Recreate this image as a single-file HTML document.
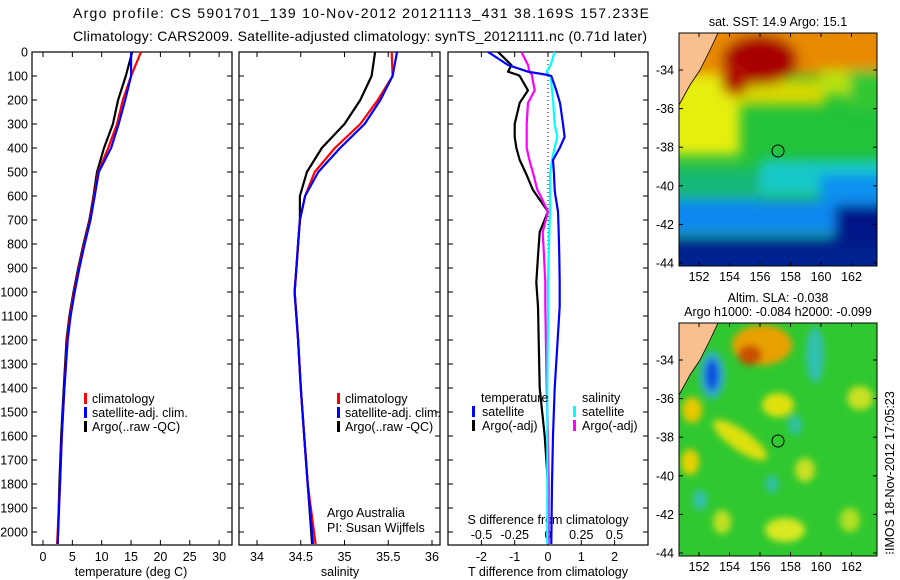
<!DOCTYPE html>
<html><head><meta charset="utf-8"><style>
html,body{margin:0;padding:0;background:#fff;width:900px;height:580px;overflow:hidden}
svg text{font-family:"Liberation Sans",sans-serif;fill:#000}
</style></head><body>
<svg id="chart" width="900" height="580" viewBox="0 0 900 580" xmlns="http://www.w3.org/2000/svg">
<defs>
<filter id="bl" x="-20%" y="-20%" width="140%" height="140%"><feGaussianBlur stdDeviation="6"/></filter>
<filter id="bl2" x="-50%" y="-50%" width="200%" height="200%"><feGaussianBlur stdDeviation="3.5"/></filter>
<clipPath id="c1"><rect x="679" y="33" width="198" height="233"/></clipPath>
<clipPath id="c2"><rect x="679" y="323" width="198" height="233"/></clipPath>
</defs>
<text x="73" y="18" font-size="14" textLength="576">Argo profile: CS 5901701_139 10-Nov-2012 20121113_431 38.169S 157.233E</text>
<text x="73" y="41" font-size="14" textLength="574">Climatology: CARS2009. Satellite-adjusted climatology: synTS_20121111.nc (0.71d later)</text>

<g>
<text x="778" y="26" font-size="12.5" text-anchor="middle">sat. SST: 14.9 Argo: 15.1</text>
<g clip-path="url(#c1)">
<rect x="679" y="33" width="198" height="233" fill="#22c23a"/>
<g filter="url(#bl)">
<rect x="660" y="20" width="240" height="55" fill="#e88a00"/>
<rect x="845" y="70" width="60" height="40" fill="#30c830"/>
<rect x="660" y="75" width="80" height="80" fill="#e6ee10"/>
<rect x="735" y="80" width="90" height="25" fill="#d8d800"/>
<rect x="820" y="70" width="30" height="25" fill="#b8e010"/>
<ellipse cx="760" cy="60" rx="38" ry="25" fill="#a80000"/>
<ellipse cx="735" cy="80" rx="14" ry="16" fill="#b01000"/>
<rect x="760" y="160" width="140" height="35" fill="#18c8c8"/>
<rect x="660" y="170" width="100" height="30" fill="#18b878"/>
<rect x="660" y="200" width="240" height="35" fill="#1088f0"/>
<rect x="820" y="175" width="80" height="30" fill="#0a90f0"/>
<rect x="660" y="238" width="240" height="40" fill="#002090"/>
<rect x="835" y="205" width="70" height="40" fill="#001488"/>
</g>
<polygon points="679,33 718,33 710,50 700,70 690,85 679,105" fill="#f7c08e" stroke="#000" stroke-width="0.8"/>
</g>
<rect x="679" y="33" width="198" height="233" fill="none" stroke="#000"/>
<circle cx="778" cy="151" r="6" fill="none" stroke="#000"/>
<g id="m1ax"></g>
</g>

<g>
<text x="778" y="302" font-size="12.5" text-anchor="middle">Altim. SLA: -0.038</text>
<text x="778" y="316" font-size="12.5" text-anchor="middle">Argo h1000: -0.084 h2000: -0.099</text>
<g clip-path="url(#c2)">
<rect x="679" y="323" width="198" height="233" fill="#30c830"/>
<g filter="url(#bl2)">
<ellipse cx="762" cy="345" rx="30" ry="20" fill="#e8a000"/>
<ellipse cx="750" cy="355" rx="12" ry="10" fill="#c85000"/>
<ellipse cx="712" cy="375" rx="13" ry="24" fill="#30b0c0"/>
<ellipse cx="712" cy="375" rx="7" ry="16" fill="#1050e0"/>
<ellipse cx="815" cy="355" rx="9" ry="28" fill="#30c0b0"/>
<ellipse cx="778" cy="405" rx="16" ry="12" fill="#e0e010"/>
<ellipse cx="860" cy="398" rx="13" ry="12" fill="#c8e020"/>
<ellipse cx="692" cy="410" rx="10" ry="13" fill="#e8c800"/>
<ellipse cx="740" cy="440" rx="32" ry="10" fill="#dde010" transform="rotate(35 740 440)"/>
<ellipse cx="690" cy="462" rx="9" ry="13" fill="#e8d000"/>
<ellipse cx="795" cy="425" rx="7" ry="10" fill="#30c0a0"/>
<ellipse cx="772" cy="484" rx="7" ry="9" fill="#30c0a0"/>
<ellipse cx="700" cy="500" rx="7" ry="10" fill="#30c0b0"/>
<ellipse cx="805" cy="470" rx="10" ry="12" fill="#c8e020"/>
<ellipse cx="785" cy="530" rx="20" ry="12" fill="#d8e820"/>
<ellipse cx="722" cy="522" rx="9" ry="12" fill="#c0e020"/>
<ellipse cx="850" cy="520" rx="10" ry="12" fill="#b0e020"/>
</g>
<polygon points="679,323 718,323 710,340 700,360 690,375 679,395" fill="#f7c08e" stroke="#000" stroke-width="0.8"/>
</g>
<rect x="679" y="323" width="198" height="233" fill="none" stroke="#000"/>
<circle cx="778" cy="441" r="6" fill="none" stroke="#000"/>
<g id="m2ax"></g>
<text x="0" y="0" font-size="12.5" transform="translate(894 555) rotate(-90)">⁝IMOS 18-Nov-2012 17:05:23</text>
</g>

<g id="panels"></g>
</svg>
<script>
// ---- data (depth in dbar) ----
const tDepth=[0,100,200,300,400,500,600,700,800,900,1000,1100,1200,1420,1600,1800,2050];
const tClim=[16.7,15.0,13.6,12.6,11.1,9.4,8.7,8.0,7.0,6.1,5.3,4.6,4.1,3.6,3.2,2.9,2.4];
const tSat=[15.0,15.0,14.0,12.9,11.6,9.5,8.8,8.1,7.1,6.2,5.4,4.7,4.2,3.6,3.2,2.9,2.5];
const tArgo=[15.2,14.1,12.8,11.9,10.4,9.2,8.6,7.9,6.9,6.0,5.2,4.5,4.0,3.5,3.1,2.8,2.5];
const sDepth=[0,100,200,300,400,500,600,700,800,900,1000,1100,1200,1400,1600,1800,2050];
const sClim=[35.54,35.55,35.38,35.18,34.89,34.66,34.55,34.49,34.47,34.45,34.43,34.45,34.47,34.5,34.54,34.58,34.67];
const sSat=[35.60,35.55,35.41,35.23,34.95,34.70,34.55,34.49,34.47,34.45,34.43,34.45,34.47,34.5,34.54,34.58,34.64];
const sArgo=[35.35,35.31,35.18,35.00,34.74,34.57,34.49,34.49,34.47,34.45,34.43,34.45,34.47,34.5,34.54,34.58,34.63];
const dDepth=[0,54,82,96,100,160,212,300,354,400,450,510,575,595,665,750,850,960,1060,1400,1600,1800,2050];
const dTsat=[-1.8,-1.2,-0.6,0,0.1,0.25,0.36,0.45,0.5,0.35,0.15,0.18,0.2,0.22,0.3,0.32,0.34,0.35,0.35,0.2,0.15,0.12,0.1];
const dTargo=[-1.5,-1.1,-1.2,-0.9,-0.85,-0.6,-0.85,-1.0,-1.0,-0.95,-0.85,-0.65,-0.45,-0.35,0,-0.25,-0.3,-0.35,-0.3,-0.25,-0.1,0,0];
const dSargo=[-0.2,-0.15,-0.14,-0.12,-0.12,-0.1,-0.15,-0.16,-0.16,-0.16,-0.14,-0.11,-0.08,-0.06,0,-0.04,-0.03,-0.02,-0.02,-0.01,0,0.005,0.005];
const dSsat=[0.05,0.02,-0.01,0,0.02,0.03,0.04,0.05,0.07,0.05,0.03,0.015,0.015,0.015,0.015,0.01,0.005,0,0,-0.005,-0.005,-0.005,-0.005];
const depthTicks=[0,100,200,300,400,500,600,700,800,900,1000,1100,1200,1300,1400,1500,1600,1700,1800,1900,2000];
const tTicks=[0,5,10,15,20,25,30];
const sTicks=[34,34.5,35,35.5,36];
const sTickLabels=["34","34.5","35","35.5","36"];
const dTTicks=[-2,-1,0,1,2];
const dSTicks=[-0.5,-0.25,0,0.25,0.5];
const dSTickLabels=["-0.5","-0.25","0","0.25","0.5"];
const lonTicks=[152,154,156,158,160,162];
const latTicks=[-34,-36,-38,-40,-42,-44];

const NS="http://www.w3.org/2000/svg";
const Y0=52,Y1=545;
const yD=d=>Y0+d*0.24;
const xT=v=>43+v*5.87;
const xS=v=>257+(v-34)*87.5;
const xDT=v=>548+v*33.3;
const xDS=v=>548+v*133;
function el(tag,attrs,parent,txt){const e=document.createElementNS(NS,tag);for(const k in attrs)e.setAttribute(k,attrs[k]);if(txt!=null)e.textContent=txt;parent.appendChild(e);return e;}
const root=document.getElementById('panels');

function line(xs,ds,fx,color,name,w){
  const pts=xs.map((v,i)=>fx(v).toFixed(1)+','+yD(ds[i]).toFixed(1)).join(' ');
  const p=el('polyline',{points:pts,fill:'none',stroke:color,'stroke-width':w||2.2,'stroke-linejoin':'round'},root);
  
  
}
function frame(x0,x1,name){
  const r=el('rect',{x:x0,y:Y0,width:x1-x0,height:Y1-Y0,fill:'none',stroke:'#000','stroke-width':1.2},root);
  
  
  depthTicks.forEach(d=>{const y=yD(d);
    el('line',{x1:x0,x2:x0+5,y1:y,y2:y,stroke:'#000'},root);
    el('line',{x1:x1-5,x2:x1,y1:y,y2:y,stroke:'#000'},root);});
}
function xticks(vals,labels,fx,y,name){
  vals.forEach((v,i)=>{const x=fx(v);
    el('line',{x1:x,x2:x,y1:Y1,y2:Y1-5,stroke:'#000'},root);
    el('line',{x1:x,x2:x,y1:Y0,y2:Y0+5,stroke:'#000'},root);
    const t=el('text',{x:x,y:y,'font-size':12.5,'text-anchor':'middle'},root,labels[i]);
    
    });
}
function txt(x,y,s,name,anchor){const t=el('text',{x:x,y:y,'font-size':12.5,'text-anchor':anchor||'start'},root,s);
  
  }
function legBar(x,y,c,name){const r=el('rect',{x:x,y:y-10,width:3,height:11,fill:c},root);
  
  }

depthTicks.forEach(d=>{const t=el('text',{x:28,y:yD(d)+4.5,'font-size':12.5,'text-anchor':'end'},root,String(d));
  
  });

// panel 1
frame(32,232,'temperature-panel');
xticks(tTicks,tTicks.map(String),xT,561,'temperature-tick-label');
txt(131,576,'temperature (deg C)','temperature-axis-title','middle');
line(tArgo,tDepth,xT,'#000','temperature-argo-line');
line(tClim,tDepth,xT,'#f00','temperature-climatology-line');
line(tSat,tDepth,xT,'#00f','temperature-satellite-line');
legBar(84,403,'#f00','legend-climatology-swatch');txt(92,403,'climatology','legend-climatology');
legBar(84,417,'#00f','legend-satellite-swatch');txt(92,417,'satellite-adj. clim.','legend-satellite');
legBar(84,431,'#000','legend-argo-swatch');txt(92,431,'Argo(..raw -QC)','legend-argo');

// panel 2
frame(239,440,'salinity-panel');
xticks(sTicks,sTickLabels,xS,561,'salinity-tick-label');
txt(340,576,'salinity','salinity-axis-title','middle');
line(sArgo,sDepth,xS,'#000','salinity-argo-line');
line(sClim,sDepth,xS,'#f00','salinity-climatology-line');
line(sSat,sDepth,xS,'#00f','salinity-satellite-line');
legBar(337,403,'#f00','legend-climatology-swatch');txt(345,403,'climatology','legend-climatology');
legBar(337,417,'#00f','legend-satellite-swatch');txt(345,417,'satellite-adj. clim.','legend-satellite');
legBar(337,431,'#000','legend-argo-swatch');txt(345,431,'Argo(..raw -QC)','legend-argo');
txt(327,517,'Argo Australia','credit-line-1');
txt(327,532,'PI: Susan Wijffels','credit-line-2');

// panel 3
frame(448,648,'difference-panel');
xticks(dTTicks,dTTicks.map(v=>v<0?'-'+(-v):String(v)),xDT,561,'t-difference-tick-label');
dSTicks.forEach((v,i)=>{const x=xDS(v);
  const t=el('text',{x:x,y:539,'font-size':12.5,'text-anchor':'middle'},root,dSTickLabels[i]);
  
  });
txt(548,576,'T difference from climatology','t-difference-axis-title','middle');
txt(548,524,'S difference from climatology','s-difference-axis-title','middle');
el('line',{x1:548,x2:548,y1:Y0,y2:Y1,stroke:'#000','stroke-dasharray':'1,3'},root);
line(dTargo,dDepth,xDT,'#000','t-diff-argo-line');
line(dSargo,dDepth,xDS,'#f0f','s-diff-argo-line');
line(dSsat,dDepth,xDS,'#0ff','s-diff-satellite-line');
line(dTsat,dDepth,xDT,'#00f','t-diff-satellite-line');
txt(481,402,'temperature','legend-temperature-heading');
legBar(472,416,'#00f','legend-t-satellite-swatch');txt(482,416,'satellite','legend-t-satellite');
legBar(472,430,'#000','legend-t-argo-swatch');txt(482,430,'Argo(-adj)','legend-t-argo');
txt(582,402,'salinity','legend-salinity-heading');
legBar(573,416,'#0ff','legend-s-satellite-swatch');txt(582,416,'satellite','legend-s-satellite');
legBar(573,430,'#f0f','legend-s-argo-swatch');txt(582,430,'Argo(-adj)','legend-s-argo');

// map axes
function mapAxes(g,top,bot,lat0y,lat1y){
  const xl=v=>699+(v-152)*15.25;
  const yl=v=>lat0y+(-34-v)*(lat1y-lat0y)/10;
  lonTicks.forEach(v=>{const x=xl(v);
    el('line',{x1:x,x2:x,y1:bot,y2:bot-4,stroke:'#000'},g);
    el('line',{x1:x,x2:x,y1:top,y2:top+4,stroke:'#000'},g);
    const t=el('text',{x:x,y:bot+15,'font-size':12.5,'text-anchor':'middle'},g,String(v));
    
    });
  latTicks.forEach(v=>{const y=yl(v);
    el('line',{x1:877,x2:873,y1:y,y2:y,stroke:'#000'},g);
    el('line',{x1:679,x2:683,y1:y,y2:y,stroke:'#000'},g);
    const t=el('text',{x:674,y:y+4.5,'font-size':12.5,'text-anchor':'end'},g,String(v));
    
    });
}
mapAxes(document.getElementById('m1ax'),33,266,70,263);
mapAxes(document.getElementById('m2ax'),323,556,360,553);
</script>
</body></html>
